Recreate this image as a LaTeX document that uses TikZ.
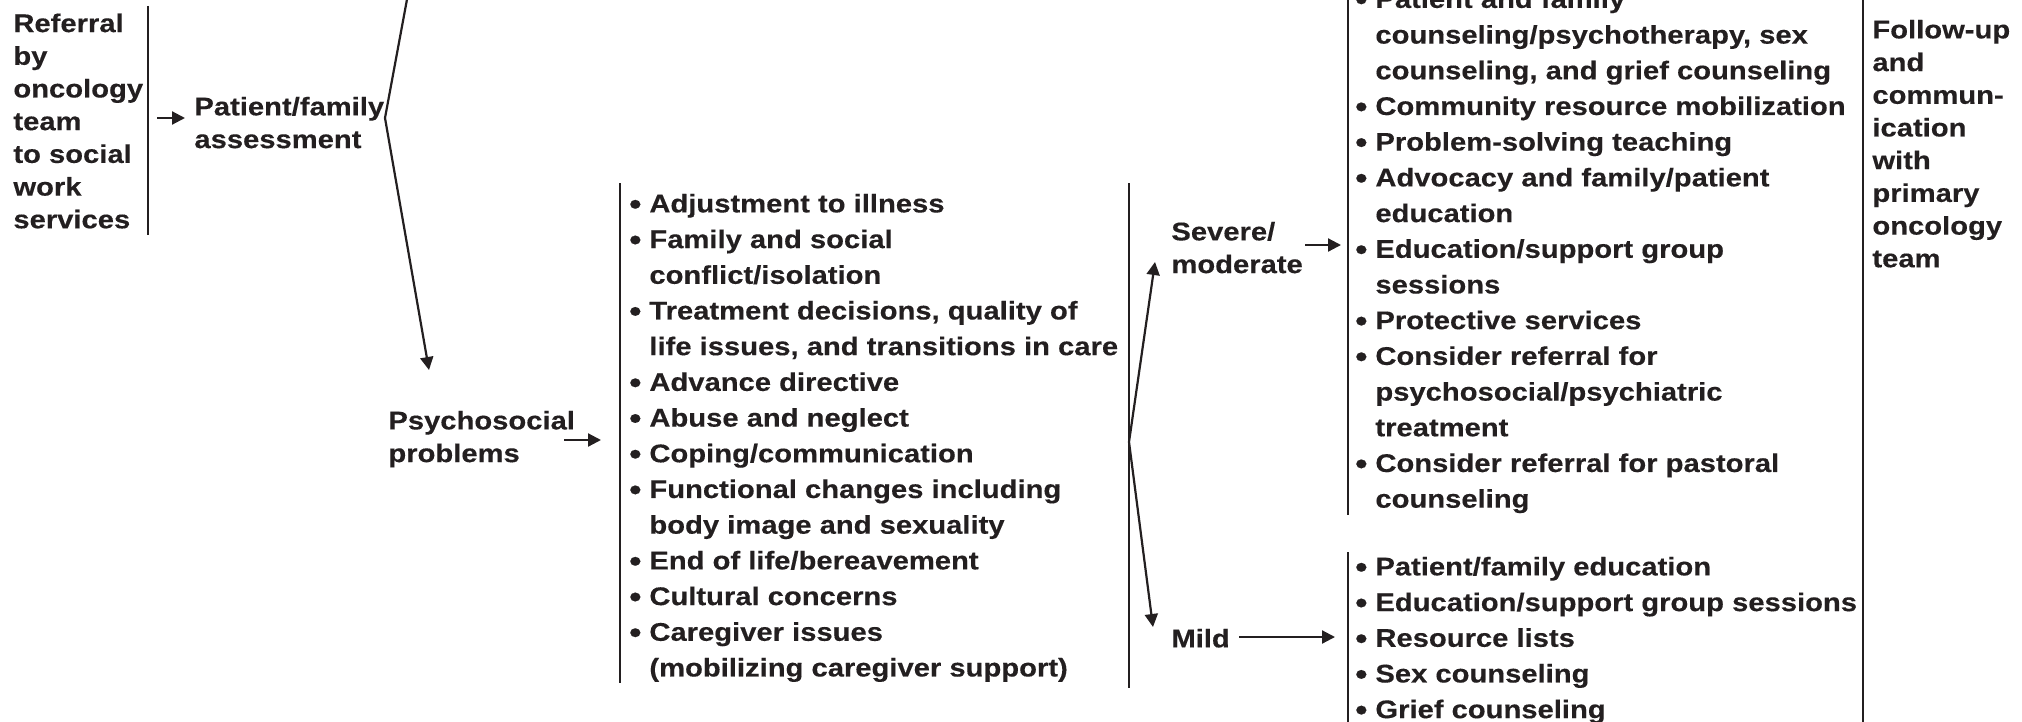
\documentclass[tikz,border=0pt]{standalone}
\usepackage{graphicx}
\usepackage{fontspec}
\setmainfont{Liberation Sans}[FakeStretch=1.14,FakeBold=0.3]
\usetikzlibrary{arrows.meta}
\definecolor{ink}{RGB}{35,31,32}
\newcommand{\bul}{\makebox[8.5pt][l]{\hspace{-1.6pt}\raisebox{-0.08em}{\scalebox{1.2}{\textbullet}}}}
\newcommand{\ind}{\hspace*{8.5pt}}
\tikzset{
  lbl/.style={anchor=north west, inner sep=0pt, align=left, text=ink,
    font=\bfseries\fontsize{12.8}{16.35}\selectfont},
  lst/.style={anchor=north west, inner sep=0pt, align=left, text=ink,
    font=\bfseries\fontsize{12.8}{17.85}\selectfont},
  bar/.style={draw=ink, line width=1.1pt},
  arr/.style={draw=ink, line width=1.1pt, -{Triangle[length=6.5pt,width=6.5pt]}},
  arrb/.style={draw=ink, line width=1.1pt, {Triangle[length=6.5pt,width=6.5pt]}-{Triangle[length=6.5pt,width=6.5pt]}},
}
\begin{document}
\begin{tikzpicture}[x=0.5pt,y=-0.5pt]
\useasboundingbox (0,0) rectangle (2022,722);
\clip (0,0) rectangle (2022,722);

% labels
\node[lbl] (ref) at (13,8.8) {\strut Referral\\by\\oncology\\team\\to social\\work\\services};
\node[lbl] (pfa) at (194,92.1) {\strut Patient/family\\assessment};
\node[lbl] (psy) at (388,406.1) {\strut Psychosocial\\problems};
\node[lbl] (sev) at (1171,217.1) {\strut Severe/\\moderate};
\node[lbl] (mild) at (1171,624.1) {\strut Mild};
\node[lbl] (fol) at (1872,15.1) {\strut Follow-up\\and\\commun-\\ication\\with\\primary\\oncology\\team};

% lists
\node[lst] (prob) at (632,187) {\strut\bul Adjustment to illness\\
\bul Family and social\\
\ind conflict/isolation\\
\bul Treatment decisions, quality of\\
\ind life issues, and transitions in care\\
\bul Advance directive\\
\bul Abuse and neglect\\
\bul Coping/communication\\
\bul Functional changes including\\
\ind body image and sexuality\\
\bul End of life/bereavement\\
\bul Cultural concerns\\
\bul Caregiver issues\\
\ind (mobilizing caregiver support)};

\node[lst] (sevl) at (1358,-17.5) {\strut\bul Patient and family\\
\ind counseling/psychotherapy, sex\\
\ind counseling, and grief counseling\\
\bul Community resource mobilization\\
\bul Problem-solving teaching\\
\bul Advocacy and family/patient\\
\ind education\\
\bul Education/support group\\
\ind sessions\\
\bul Protective services\\
\bul Consider referral for\\
\ind psychosocial/psychiatric\\
\ind treatment\\
\bul Consider referral for pastoral\\
\ind counseling};

\node[lst] (mildl) at (1358,550) {\strut\bul Patient/family education\\
\bul Education/support group sessions\\
\bul Resource lists\\
\bul Sex counseling\\
\bul Grief counseling};

% bars
\coordinate (b1t) at (148,6);    \coordinate (b1b) at (148,235);
\coordinate (b2t) at (620,183);  \coordinate (b2b) at (620,683);
\coordinate (b3t) at (1129,183); \coordinate (b3b) at (1129,688);
\coordinate (b4t) at (1348,-6);  \coordinate (b4b) at (1348,515);
\coordinate (b5t) at (1348,552); \coordinate (b5b) at (1348,730);
\coordinate (b6t) at (1863,-6);  \coordinate (b6b) at (1863,730);
\draw[bar] (b1t) -- (b1b);
\draw[bar] (b2t) -- (b2b);
\draw[bar] (b3t) -- (b3b);
\draw[bar] (b4t) -- (b4b);
\draw[bar] (b5t) -- (b5b);
\draw[bar] (b6t) -- (b6b);

% arrows
\coordinate (a1s) at (157,118);  \coordinate (a1e) at (185,118);
\draw[arr] (a1s) -- (a1e);
\coordinate (f1up) at (408,-6); \coordinate (f1) at (385,118); \coordinate (f1dn) at (429,370);
\draw[arr] (f1up) -- (f1) -- (f1dn);
\coordinate (a2s) at (564,440);  \coordinate (a2e) at (601,440);
\draw[arr] (a2s) -- (a2e);
\coordinate (f2up) at (1155,262); \coordinate (f2) at (1129,442); \coordinate (f2dn) at (1153,627);
\draw[arrb] (f2up) -- (f2) -- (f2dn);
\coordinate (a3s) at (1305,245); \coordinate (a3e) at (1341,245);
\draw[arr] (a3s) -- (a3e);
\coordinate (a4s) at (1239,637); \coordinate (a4e) at (1335,637);
\draw[arr] (a4s) -- (a4e);
\end{tikzpicture}
\end{document}
